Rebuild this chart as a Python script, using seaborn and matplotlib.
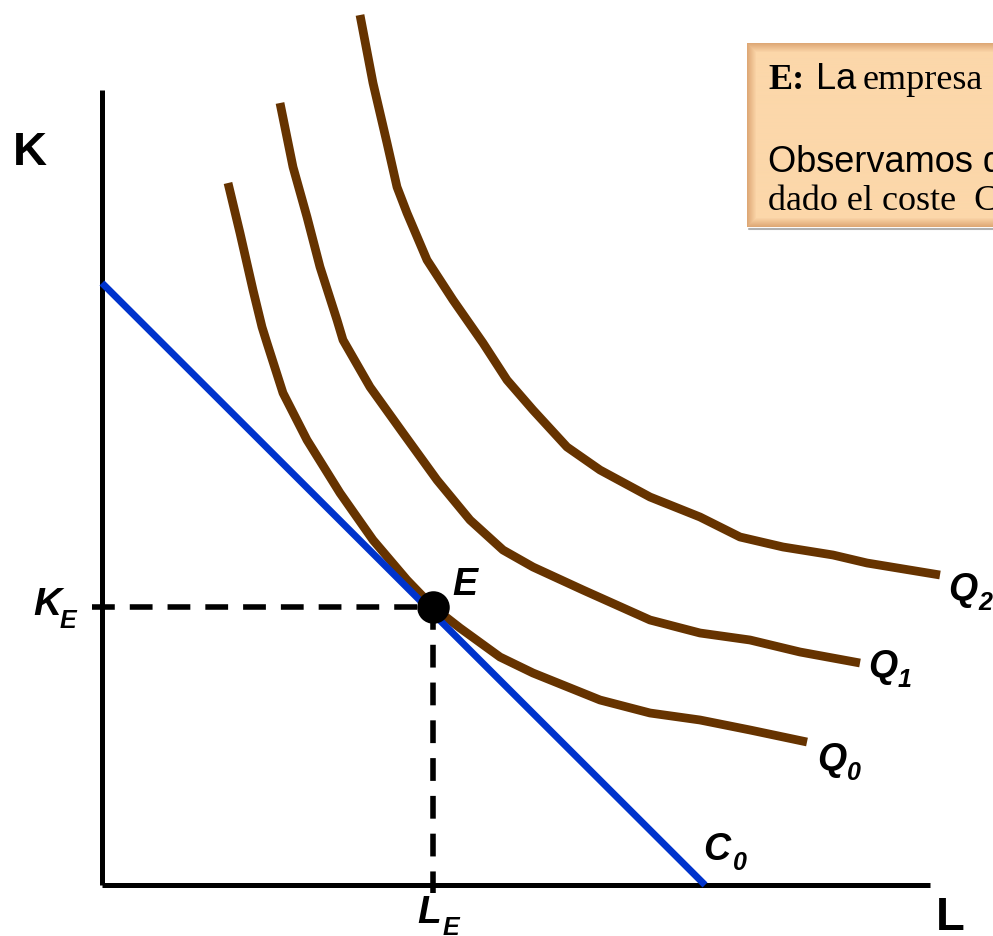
"""
Equilibrio del productor: isocuantas Q0, Q1, Q2 y recta isocoste C0
"""

import numpy as np
import matplotlib.pyplot as plt
import seaborn as sns

sns.set_style("white")
plt.rcParams['font.family'] = ['Liberation Sans', 'DejaVu Sans']
plt.rcParams['text.color'] = 'black'

# ---- datos (unidades del gráfico: L horizontal, K vertical) ----
q0_L = [126, 138, 151, 160, 165, 181, 205, 238, 271, 305, 331, 358, 398, 431, 498, 548, 598, 648, 705]
q0_K = [702, 652, 595, 558, 542, 492, 445, 392, 345, 305, 278, 257, 228, 212, 185, 172, 165, 155, 143]

q1_L = [178, 191, 205, 218, 235, 241, 268, 301, 335, 368, 401, 431, 481, 548, 598, 648, 698, 758]
q1_K = [782, 718, 668, 618, 565, 545, 498, 452, 405, 365, 335, 318, 295, 265, 252, 245, 233, 222]

q2_L = [258, 271, 285, 295, 305, 325, 351, 381, 405, 431, 465, 498, 548, 598, 638, 681, 731, 765, 838]
q2_K = [870, 802, 742, 698, 672, 625, 585, 542, 505, 475, 438, 415, 388, 368, 348, 338, 330, 322, 310]

c0_L = [0, 603]
c0_K = [602, 0]

eq_L = [331]
eq_K = [278]

axis_L_max = 828
axis_K_max = 795

BROWN = '#663300'
BLUE = '#0033CC'

fig = plt.figure(figsize=(9.93, 9.36), dpi=100)
ax = fig.add_axes([0, 0, 1, 1])
ax.set_xlim(-102, 891)
ax.set_ylim(-51, 885)
ax.axis('off')

# ejes
ax.plot([0, 0], [0, axis_K_max], color='black', lw=3.6, solid_capstyle='butt', zorder=2)
ax.plot([0, axis_L_max], [0, 0], color='black', lw=3.6, solid_capstyle='butt', zorder=2)

# líneas de referencia discontinuas
ax.plot([-10, eq_L[0]], [eq_K[0], eq_K[0]], color='black', lw=4,
        linestyle=(0, (4.1, 2.7)), dash_capstyle='butt', zorder=2)
ax.plot([eq_L[0], eq_L[0]], [eq_K[0], -8], color='black', lw=4,
        linestyle=(0, (4.1, 2.7)), dash_capstyle='butt', zorder=2)

# isocuantas
for qL, qK in [(q0_L, q0_K), (q1_L, q1_K), (q2_L, q2_K)]:
    sns.lineplot(x=qL, y=qK, sort=False, estimator=None, color=BROWN,
                 lw=6.3, solid_capstyle='butt', solid_joinstyle='round', ax=ax, zorder=3)

# isocoste
sns.lineplot(x=c0_L, y=c0_K, sort=False, estimator=None, color=BLUE,
             lw=5, solid_capstyle='butt', ax=ax, zorder=4)

# punto de equilibrio
sns.scatterplot(x=eq_L, y=eq_K, s=470, color='black', edgecolor='black', ax=ax, zorder=5)

# etiquetas
bi = dict(fontweight='bold', fontstyle='italic', color='black')
ax.text(-89, 720, 'K', fontsize=34, fontweight='bold', ha='left', va='baseline')
ax.text(834, -45, 'L', fontsize=34, fontweight='bold', ha='left', va='baseline')
ax.text(-69, 270, 'K', fontsize=28, ha='left', va='baseline', **bi)
ax.text(-42, 257, 'E', fontsize=18, ha='left', va='baseline', **bi)
ax.text(315, -38, 'L', fontsize=28, ha='left', va='baseline', **bi)
ax.text(341, -50, 'E', fontsize=18, ha='left', va='baseline', **bi)
ax.text(350, 290, 'E', fontsize=27, ha='left', va='baseline', **bi)

for (x, y, name, sub) in [(846, 285, 'Q', '2'), (766, 208, 'Q', '1'),
                          (715, 115, 'Q', '0'), (601, 25, 'C', '0')]:
    ax.text(x, y, name, fontsize=27, ha='left', va='baseline', **bi)
    ax.text(x + 30, y - 10, sub, fontsize=18, ha='left', va='baseline', **bi)

# recuadro de texto (relleno biselado)
bx0, bx1, by0, by1 = 645, 905, 658, 842
h, w = 185, 260
yy, xx = np.mgrid[0:h, 0:w]
d = np.minimum(np.minimum(xx, yy), h - 1 - yy).astype(float)
t = np.clip(d / 9.0, 0, 1)
center = np.array([252, 215, 170]) / 255
edge = np.array([222, 168, 118]) / 255
img = edge + (center - edge) * t[..., None]
ax.imshow(img, extent=(bx0, bx1, by0, by1), origin='upper', aspect='auto', zorder=1)
# sombra inferior
ax.plot([bx0 + 2, bx1], [by0 - 2, by0 - 2], color='#b0b0b0', lw=1.5, zorder=0.9)
ax.set_xlim(-102, 891)
ax.set_ylim(-51, 885)

ax.text(666, 796, 'E:', fontsize=26, fontweight='bold', family='Liberation Serif',
        ha='left', va='baseline', zorder=6)
ax.text(714, 796, 'La', fontsize=26, family='Liberation Sans', ha='left', va='baseline', zorder=6)
ax.text(761, 796, 'empresa', fontsize=26, family='Liberation Serif', ha='left', va='baseline', zorder=6)
ax.text(666, 713, 'Observamos que', fontsize=26, family='Liberation Sans',
        ha='left', va='baseline', zorder=6)
ax.text(666, 675, 'dado el coste  C', fontsize=26, family='Liberation Serif',
        ha='left', va='baseline', zorder=6)

plt.savefig('out.png', dpi=100)
plt.close()
